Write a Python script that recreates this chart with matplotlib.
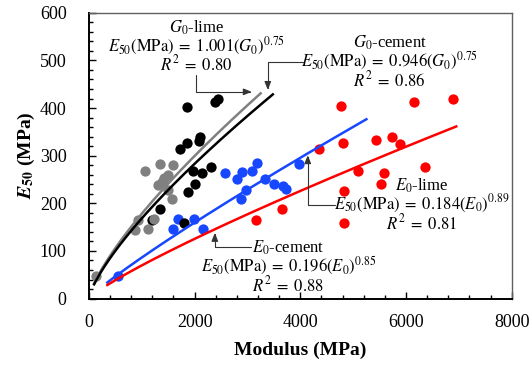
import numpy as np
import matplotlib.pyplot as plt
from matplotlib.ticker import MultipleLocator

plt.rcParams['font.family'] = 'Liberation Serif'
plt.rcParams['mathtext.fontset'] = 'stix'

# G0 - lime (grey points)
g0_lime_x = [1065, 1343, 1583, 1500, 1418, 1375, 1310, 1500, 1564, 1235, 932, 870, 1121, 127]
g0_lime_y = [267, 282, 280, 259, 253, 245, 238, 228, 210, 168, 166, 145, 147, 48]

# G0 - cement (black points)
g0_cem_x = [1848, 2383, 2445, 1721, 1848, 2086, 2099, 1972, 2131, 2320, 2004, 1878, 1343, 1796, 1186]
g0_cem_y = [403, 413, 418, 315, 327, 331, 340, 268, 264, 277, 240, 224, 188, 159, 165]

# E0 - lime (blue points)
e0_lime_x = [2572, 2793, 2888, 3077, 3190, 3328, 3504, 3674, 3725, 2982, 2874, 3977, 1986, 2161, 1689, 1594, 554]
e0_lime_y = [264, 252, 266, 268, 284, 250, 240, 236, 229, 228, 209, 282, 168, 147, 168, 147, 47]

# E0 - cement (red points)
e0_cem_x = [4779, 6146, 6889, 4809, 5427, 5743, 5881, 4355, 5093, 5584, 6360, 5535, 4822, 4828, 3655, 3171]
e0_cem_y = [404, 413, 419, 327, 333, 340, 324, 315, 268, 264, 277, 240, 226, 158, 187, 166]

# power-law fits E50 = a * M^b
fit_var = ['G_0', 'G_0', 'E_0', 'E_0']
fit_binder = ['lime', 'cement', 'lime', 'cement']
fit_a = [1.001, 0.946, 0.184, 0.196]
fit_b = [0.75, 0.75, 0.89, 0.85]
fit_r2 = [0.80, 0.86, 0.81, 0.88]
fit_xmin = [100, 100, 350, 350]
fit_xmax = [3250, 3480, 5250, 6950]

grey = '#808080'
blue = '#1747FF'
red = '#FF0000'
fit_colors = [grey, 'black', blue, red]

fig = plt.figure(figsize=(5.32, 3.65), dpi=100)
ax = fig.add_axes([0.167, 0.182, 0.795, 0.783])

ms = 55
ax.scatter(e0_cem_x, e0_cem_y, s=ms, color=red, lw=0, zorder=2)
ax.scatter(e0_lime_x, e0_lime_y, s=ms, color=blue, lw=0, zorder=2)
ax.scatter(g0_cem_x, g0_cem_y, s=ms, color='black', lw=0, zorder=2)
ax.scatter(g0_lime_x, g0_lime_y, s=ms, color=grey, lw=0, zorder=2)

for a, b, x0, x1, c in zip(fit_a, fit_b, fit_xmin, fit_xmax, fit_colors):
    xs = np.linspace(x0, x1, 200)
    ax.plot(xs, a * xs ** b, color=c, lw=1.8, zorder=3)

# equation labels, one three-line block per fit (centre of block)
lab_x = [2040, 5690, 6300, 3770]
lab_y = [529, 497, 196, 67]
for i in range(4):
    lines = [
        f"${fit_var[i]}$-{fit_binder[i]}",
        f"$E_{{50}}(\\mathrm{{MPa}})\\;=\\;{fit_a[i]:.3f}({fit_var[i]})^{{{fit_b[i]:.2f}}}$",
        f"$R^2\\;=\\;{fit_r2[i]:.2f}$",
    ]
    ax.text(lab_x[i], lab_y[i], "\n".join(lines), ha='center', va='center',
            multialignment='center', fontsize=12, linespacing=0.88, zorder=4)

# leader arrows (start, end, angles of the two legs)
arrow_start = [(2023, 469), (4047, 497), (4652, 196), (3063, 108)]
arrow_end = [(3082, 434), (3385, 438), (4141, 301), (2383, 138)]
arrow_conn = ['angle,angleA=90,angleB=0,rad=0', 'angle,angleA=0,angleB=90,rad=0',
              'angle,angleA=0,angleB=90,rad=0', 'angle,angleA=0,angleB=90,rad=0']
for s, e, cs in zip(arrow_start, arrow_end, arrow_conn):
    ax.annotate('', xy=e, xytext=s,
                arrowprops=dict(arrowstyle='-|>,head_length=0.5,head_width=0.2',
                                color='#333333', lw=0.8, shrinkA=0, shrinkB=0,
                                connectionstyle=cs),
                zorder=4)

ax.set_xlim(0, 8000)
ax.set_ylim(0, 600)
ax.xaxis.set_major_locator(MultipleLocator(2000))
ax.xaxis.set_minor_locator(MultipleLocator(400))
ax.yaxis.set_major_locator(MultipleLocator(100))
ax.yaxis.set_minor_locator(MultipleLocator(20))
ax.tick_params(which='both', direction='in', labelsize=13, colors='black')
ax.tick_params(which='major', length=5, width=1)
ax.tick_params(which='minor', length=3, width=1)
ax.xaxis.set_tick_params(which='major', pad=11)
ax.yaxis.set_tick_params(which='major', pad=16)

for side in ['left', 'bottom']:
    ax.spines[side].set_linewidth(1.4)
    ax.spines[side].set_color('black')
for side in ['top', 'right']:
    ax.spines[side].set_linewidth(1.0)
    ax.spines[side].set_color('#606060')

ax.set_xlabel('Modulus (MPa)', fontsize=14, fontweight='bold', labelpad=8)
ax.set_ylabel(r'$\mathbfit{E}_{\mathbf{50}}$ (MPa)', fontsize=14, fontweight='bold', labelpad=2)

fig.savefig('out.png', dpi=100)
